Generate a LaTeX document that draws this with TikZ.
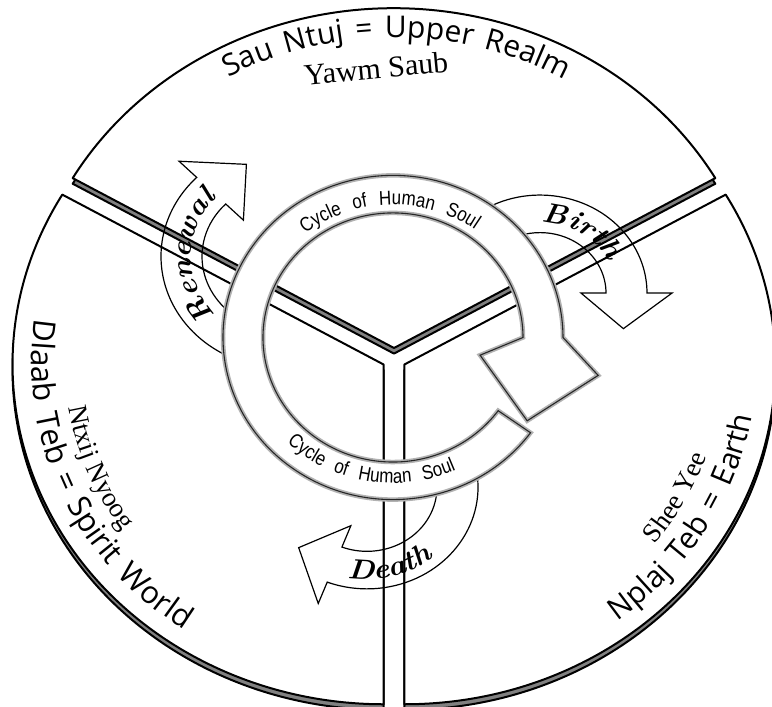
\documentclass[tikz,border=0pt]{standalone}
\usepackage{fontspec}
\usetikzlibrary{calc,decorations.text}
\newfontfamily\lblfont[WordSpace=1.5]{Open Sans}
\newfontfamily\serfont{Liberation Serif}
\newfontfamily\ringfont[WordSpace=2.5,FakeStretch=0.85]{Liberation Sans}
\newfontfamily\cursfont[FakeStretch=1.1]{Latin Modern Roman}
\begin{document}
\begin{tikzpicture}[x=1pt,y=0.9158pt,
  sectorbase/.style={fill=black!50,draw=black,line width=2pt,line join=round},
  sectortop/.style={fill=white,draw=black,line width=2pt,line join=round},
  arrowband/.style={draw=black,line width=1.2pt,line join=miter},
  ringshadow/.style={fill=white,draw=black!30,line width=4.5pt,line join=miter},
  ringline/.style={draw=black!85,line width=1.1pt},
  ]
\useasboundingbox (0,0) rectangle (772,-772);
\clip (0,0) rectangle (772,-772);
\coordinate (CT) at (394,-380);
\coordinate (CL) at (383.6,-398);
\coordinate (CR) at (404.4,-398);
\coordinate (CB) at (540,-320);
\coordinate (CD) at (367,-532);
\coordinate (CN) at (283,-280);
\coordinate (RC) at (393,-368.5);

% sector thickness
\begin{scope}[transform canvas={yshift=-5.6pt}]
\draw[sectorbase] (CT) -- ($(CT)+(30:371)$) arc[start angle=30,end angle=150,radius=371] -- cycle;
\draw[sectorbase] (CL) -- ($(CL)+(150:371)$) arc[start angle=150,end angle=270,radius=371] -- cycle;
\draw[sectorbase] (CR) -- ($(CR)+(270:371)$) arc[start angle=270,end angle=390,radius=371] -- cycle;
\end{scope}
% sectors
\draw[sectortop] (CT) -- ($(CT)+(30:371)$) arc[start angle=30,end angle=150,radius=371] -- cycle;
\draw[sectortop] (CL) -- ($(CL)+(150:371)$) arc[start angle=150,end angle=270,radius=371] -- cycle;
\draw[sectortop] (CR) -- ($(CR)+(270:371)$) arc[start angle=270,end angle=390,radius=371] -- cycle;

% curved arrows (outlines only)
\draw[arrowband] ($(CB)+(125:107)$) arc[start angle=125,end angle=0,radius=107]
  -- ($(CB)+(0:132)$) -- ($(CB)+(-25:92)$) -- ($(CB)+(0:41)$) -- ($(CB)+(0:66)$)
  arc[start angle=0,end angle=125,radius=66] -- cycle;
\draw[arrowband] ($(CD)+(12:111)$) arc[start angle=12,end angle=-111,radius=111]
  -- ($(CD)+(-111:136)$) -- ($(CD)+(-136:95)$) -- ($(CD)+(-111:45)$) -- ($(CD)+(-111:70)$)
  arc[start angle=-111,end angle=12,radius=70] -- cycle;
\draw[arrowband] ($(CN)+(245:122)$) arc[start angle=245,end angle=135,radius=122]
  -- ($(CN)+(135:147)$) -- ($(CN)+(110:107)$) -- ($(CN)+(135:56)$) -- ($(CN)+(135:81)$)
  arc[start angle=135,end angle=245,radius=81] -- cycle;

% ring arrow
\path[ringshadow,postaction={ringline}] ($(RC)+(-36:170 and 177)$)
  arc[start angle=-36,end angle=-360,x radius=170,y radius=177]
  -- ($(RC)+(-371:209 and 217)$) -- ($(RC)+(-393:160 and 167)$) -- ($(RC)+(-372:89 and 93)$)
  -- ($(RC)+(-360:130 and 136)$)
  arc[start angle=-360,end angle=-36,x radius=130,y radius=136] -- cycle;

% ring texts
\path[decorate,decoration={text along path,text align=center,
  text={|\ringfont\fontsize{20}{20}\selectfont|Cycle of Human Soul}}]
  ($(RC)+(170:140 and 145)$) arc[start angle=170,end angle=13,x radius=140,y radius=145];
\path[decorate,decoration={text along path,text align=center,
  text={|\ringfont\fontsize{20}{20}\selectfont|Cycle of Human Soul}}]
  ($(RC)+(190:153 and 159)$) arc[start angle=190,end angle=330,x radius=153,y radius=159];

% arrow labels
\path[decorate,decoration={text along path,text align=center,
  text={|\cursfont\bfseries\itshape\fontsize{28}{28}\selectfont|Birth}}]
  ($(CB)+(120:77)$) arc[start angle=120,end angle=-7,radius=77];
\path[decorate,decoration={text along path,text align=center,
  text={|\cursfont\bfseries\itshape\fontsize{28}{28}\selectfont|Renewal}}]
  ($(CN)+(250:92)$) arc[start angle=250,end angle=110,radius=92];
\path[decorate,decoration={text along path,text align=center,
  text={|\cursfont\bfseries\itshape\fontsize{28}{28}\selectfont|Death}}]
  ($(CD)+(-160:101)$) arc[start angle=-160,end angle=12,radius=101];

% realm labels
\path[decorate,decoration={text along path,text align=center,
  text={|\lblfont\fontsize{30}{30}\selectfont|Sau Ntuj = Upper Realm}}]
  ($(CT)+(150:339)$) arc[start angle=150,end angle=29,radius=339];
\node[font=\serfont\fontsize{30}{30}\selectfont,anchor=base,rotate=5.5] (yawm) at (377,-86) {Yawm Saub};
\path[decorate,decoration={text along path,text align=center,
  text={|\lblfont\fontsize{31}{31}\selectfont|Dlaab Teb = Spirit World}}]
  ($(CL)+(150:352)$) arc[start angle=150,end angle=256,radius=352];
\path[decorate,decoration={text along path,text align=center,
  text={|\serfont\fontsize{27}{27}\selectfont|Ntxij Nyoog}}]
  ($(CL)+(160:318)$) arc[start angle=160,end angle=242,radius=318];
\path[decorate,decoration={text along path,text align=center,
  text={|\lblfont\fontsize{30}{30}\selectfont|Nplaj Teb = Earth}}]
  ($(CR)+(-80:352)$) arc[start angle=-80,end angle=20,radius=352];
\path[decorate,decoration={text along path,text align=center,
  text={|\serfont\fontsize{27}{27}\selectfont|Shee Yee}}]
  ($(CR)+(-65:318)$) arc[start angle=-65,end angle=10,radius=318];
\end{tikzpicture}
\end{document}
